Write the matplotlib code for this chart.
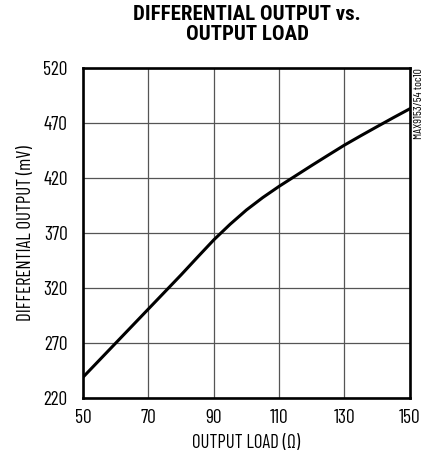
import matplotlib
matplotlib.use("Agg")
import matplotlib.pyplot as plt

load = [50, 55, 60, 65, 70, 75, 80, 85, 90, 95, 100, 105, 110, 115, 120, 125, 130, 135, 140, 145, 150]
vout = [239, 254.5, 270, 285.5, 301, 316.5, 332, 348, 363.8, 378, 391, 402.3, 412.5, 422, 431.5, 440.8, 450, 458.5, 466.8, 475, 483]
xticks = [50, 70, 90, 110, 130, 150]
yticks = [220, 270, 320, 370, 420, 470, 520]

body = ['Barlow Condensed', 'Roboto Condensed', 'DejaVu Sans']
plt.rcParams['font.family'] = body

fig = plt.figure(figsize=(4.26, 4.57), dpi=100)
ax = fig.add_axes([0.195, 0.129, 0.767, 0.722])

ax.plot(load, vout, color='black', lw=2.2, solid_joinstyle='round')

ax.set_xlim(50, 150)
ax.set_ylim(220, 520)
ax.set_xticks(xticks)
ax.set_yticks(yticks)
ax.grid(True, color='#555555', lw=0.9)
for s in ax.spines.values():
    s.set_linewidth(1.9)
ax.tick_params(axis='y', length=0, labelsize=14, pad=11)
ax.tick_params(axis='x', length=0, labelsize=14, pad=8)
ax.set_xlabel('OUTPUT LOAD (Ω)', fontsize=13.5, labelpad=5)
ax.set_ylabel('DIFFERENTIAL OUTPUT (mV)', fontsize=13.5, labelpad=6)
fig.text(0.58, 0.99, 'DIFFERENTIAL OUTPUT vs.\nOUTPUT LOAD', ha='center', va='top',
         fontsize=15, fontweight='black', linespacing=1.1,
         family=['Roboto Condensed', 'DejaVu Sans'])
fig.text(0.983, 0.851, 'MAX9153/54 toc10', rotation=90, ha='center', va='top', fontsize=8.5)

fig.savefig('out.png', dpi=100)
